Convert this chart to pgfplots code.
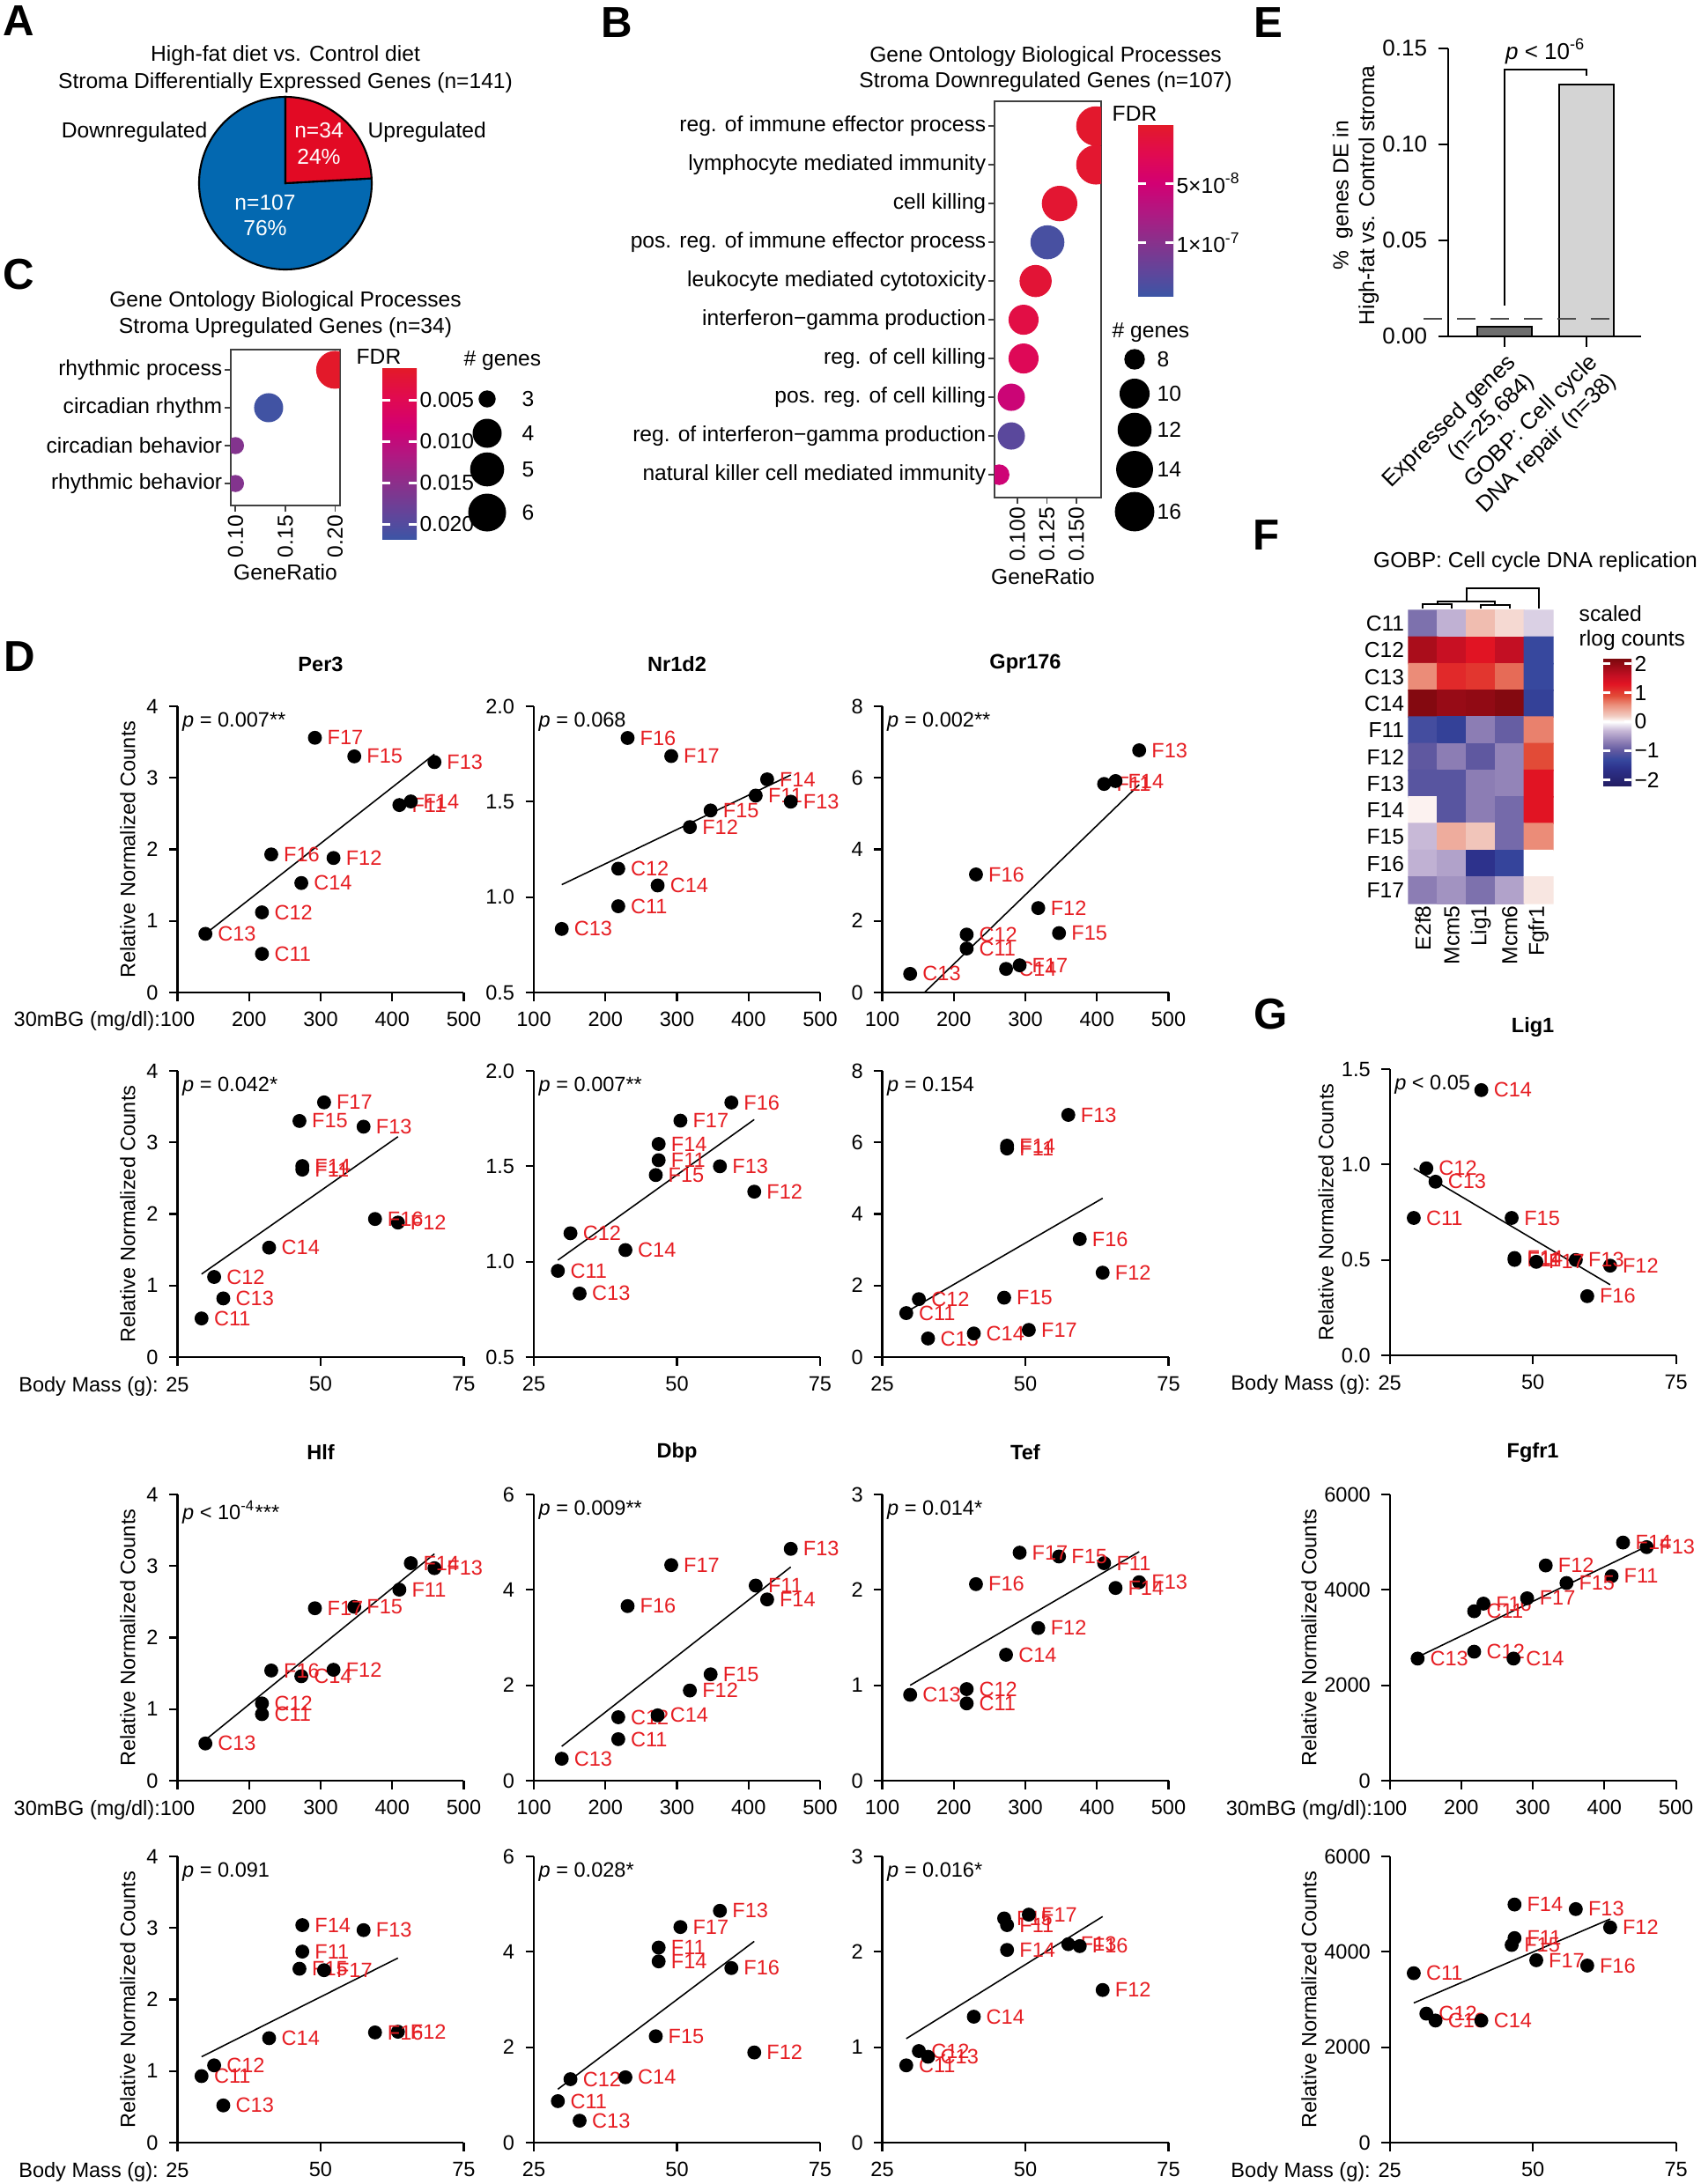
\documentclass[border=0pt]{standalone}
\usepackage{fontspec}
\setmainfont{Liberation Sans}
\usepackage{pgfplots}
\pgfplotsset{compat=1.18}
\usepackage{pgfplotstable}

\newcommand{\fs}{\fontsize{6.7}{8}\selectfont}
\newcommand{\fsb}{\fontsize{7}{8.4}\selectfont}
\newcommand{\fE}{\fontsize{7.4}{8.6}\selectfont}
\newcommand{\fL}{\fontsize{14}{14}\selectfont\bfseries}

\definecolor{labred}{RGB}{230,30,35}
\definecolor{pieblue}{RGB}{3,104,176}
\definecolor{piered}{RGB}{226,10,36}
\definecolor{bardark}{RGB}{110,110,110}
\definecolor{barlight}{RGB}{212,212,212}

\pgfplotsset{
  colormap={fdr}{rgb255(0pt)=(60,85,165) rgb255(20pt)=(95,70,155) rgb255(45pt)=(135,50,140) rgb255(70pt)=(175,25,130) rgb255(95pt)=(210,0,115) rgb255(120pt)=(225,10,80) rgb255(145pt)=(227,26,40)},
  colormap={heat}{rgb255(0pt)=(35,30,100) rgb255(6pt)=(45,50,140) rgb255(9pt)=(55,72,158) rgb255(12pt)=(95,88,160) rgb255(15pt)=(140,125,180) rgb255(19pt)=(200,185,215) rgb255(22pt)=(255,255,255) rgb255(24pt)=(242,205,195) rgb255(28pt)=(235,140,120) rgb255(31pt)=(226,75,55) rgb255(35pt)=(225,20,35) rgb255(38pt)=(195,15,35) rgb255(44pt)=(120,8,12)},
}

\pgfplotstableread{
name bg mass per3 nr1d2 gpr176 hlf dbp tef lig1 fgfr1
C11 218 29.2 0.54 0.952 1.23 0.93 0.87 0.81 0.72 3552
C12 218 31.4 1.12 1.149 1.62 1.08 1.33 0.96 0.98 2704
C13 139 33.0 0.82 0.833 0.52 0.52 0.46 0.90 0.91 2560
C14 273 41.0 1.53 1.061 0.66 1.46 1.37 1.32 1.39 2560
F11 410 46.8 2.62 1.532 5.83 2.67 4.09 2.28 0.50 4288
F12 318 63.5 1.88 1.367 2.36 1.55 1.89 1.60 0.47 4512
F13 459 57.5 3.22 1.500 6.77 2.97 4.86 2.08 0.50 4896
F14 426 46.8 2.67 1.617 5.91 3.04 3.80 2.02 0.51 4992
F15 347 46.3 3.30 1.454 1.66 2.43 2.23 2.35 0.72 4144
F16 231 59.5 1.93 1.834 3.30 1.54 3.66 2.06 0.31 3712
F17 292 50.6 3.56 1.739 0.76 2.41 4.52 2.39 0.49 3824
}\mice

% FDR in units of 1e-8
\pgfplotstableread{
y ratio n fdr
1 0.1665 16 0.3
2 0.1665 16 0.5
3 0.1357 13 0.6
4 0.1254 12 13.8
5 0.1154 11 0.9
6 0.1052 10 1.8
7 0.1052 10 3.0
8 0.0948 9 5.5
9 0.0948 9 12.8
10 0.0845 8 5.3
}\Btab

\pgfplotstableread{
y ratio n fdr
1 0.2000 6 0.0013
2 0.1333 4 0.0214
3 0.1000 3 0.0158
4 0.1000 3 0.0158
}\Ctab

\pgfplotsset{
  every axis/.append style={font=\fs, /pgf/number format/assume math mode=true},
  sc/.style={scale only axis, width=32.5mm, height=32.5mm, anchor=south west,
     axis lines*=left, tick align=outside, major tick length=0.95mm,
     axis line style={line width=0.6pt}, tick style={line width=0.6pt, black},
     clip=false, enlargelimits=false, tick label style={font=\fs},
     ylabel style={at={(axis description cs:-0.174,0.5)}, anchor=center, font=\fs}},
  bg/.style={xmin=100, xmax=500, xtick={100,200,300,400,500}},
  bgl/.style={bg, xticklabels={\llap{30mBG (mg/dl):}100,200,300,400,500}},
  bm/.style={xmin=25, xmax=75, xtick={25,50,75}},
  bml/.style={bm, xticklabels={\llap{Body Mass (g): }25,50,75}},
  pts/.style={only marks, mark=*, mark size=0.72mm, black, nodes near coords, point meta=explicit symbolic,
     every node near coord/.style={anchor=west, inner sep=0pt, xshift=1.35mm, text=labred, font=\fs}},
  reg/.style={black, line width=0.45pt, no marks},
  onedec/.style={yticklabel style={/pgf/number format/fixed, /pgf/number format/fixed zerofill, /pgf/number format/precision=1}},
}
\tikzset{
  pv/.style={anchor=north west, inner sep=0pt, xshift=0.5mm, yshift=-0.6mm, font=\fs},
  ttl/.style={font=\fs\bfseries, yshift=4.8mm},
  lt/.style={font=\fL, anchor=center},
}

\begin{document}
\begin{tikzpicture}
\pgfmathsetmacro{\ang}{90-360*34/141}
% ---------------- overlay (absolute px coordinates) ----------------
\begin{axis}[at={(0,0)}, anchor=north west, scale only axis, width=193mm, height=248mm,
  xmin=0, xmax=1930, ymin=0, ymax=2480, y dir=reverse, hide axis, clip=false]
\node[lt] at (axis cs:21,24) {A};
\node[lt] at (axis cs:700,26) {B};
\node[lt] at (axis cs:21,312) {C};
\node[lt] at (axis cs:22,746) {D};
\node[lt] at (axis cs:1440,26) {E};
\node[lt] at (axis cs:1438,608) {F};
\node[lt] at (axis cs:1443,1152) {G};
% A pie
\node[font=\fsb] at (axis cs:324,63) {High-fat diet vs. Control diet};
\node[font=\fsb] at (axis cs:324,94) {Stroma Differentially Expressed Genes (n=141)};
\filldraw[fill=pieblue, draw=black, line width=0.6pt] (axis cs:324,208) -- ++(\ang:9.8mm) arc[start angle=\ang, end angle=-270, radius=9.8mm] -- cycle;
\filldraw[fill=piered, draw=black, line width=0.6pt] (axis cs:324,208) -- ++(90:9.8mm) arc[start angle=90, end angle=\ang, radius=9.8mm] -- cycle;
\node[font=\fsb, text=white] at (axis cs:362,148) {n=34};
\node[font=\fsb, text=white] at (axis cs:362,178) {24\%};
\node[font=\fsb, text=white] at (axis cs:301,230) {n=107};
\node[font=\fsb, text=white] at (axis cs:301,259) {76\%};
\node[font=\fsb, anchor=east, inner sep=0pt] at (axis cs:236,150) {Downregulated};
\node[font=\fsb, anchor=west, inner sep=0pt] at (axis cs:417,150) {Upregulated};
% B titles and legend
\node[font=\fsb] at (axis cs:1187,64) {Gene Ontology Biological Processes};
\node[font=\fsb] at (axis cs:1187,93) {Stroma Downregulated Genes (n=107)};
\node[font=\fsb, anchor=west, inner sep=0pt] at (axis cs:1262,129) {FDR};
\node[font=\fsb] at (axis cs:1184,655) {GeneRatio};
\node[font=\fsb, anchor=west, inner sep=0pt] at (axis cs:1262,378) {\# genes};
\addplot[only marks, mark=*, black, mark size=1.10mm] coordinates {(1288,408)};
\addplot[only marks, mark=*, black, mark size=1.635mm] coordinates {(1288,447)};
\addplot[only marks, mark=*, black, mark size=1.857mm] coordinates {(1288,488)};
\addplot[only marks, mark=*, black, mark size=2.027mm] coordinates {(1288,533)};
\addplot[only marks, mark=*, black, mark size=2.17mm] coordinates {(1288,581)};
\node[font=\fsb, anchor=west, inner sep=0pt] at (axis cs:1313,408) {8};
\node[font=\fsb, anchor=west, inner sep=0pt] at (axis cs:1313,447) {10};
\node[font=\fsb, anchor=west, inner sep=0pt] at (axis cs:1313,488) {12};
\node[font=\fsb, anchor=west, inner sep=0pt] at (axis cs:1313,533) {14};
\node[font=\fsb, anchor=west, inner sep=0pt] at (axis cs:1313,581) {16};
% C titles and legend
\node[font=\fsb] at (axis cs:324,342) {Gene Ontology Biological Processes};
\node[font=\fsb] at (axis cs:324,372) {Stroma Upregulated Genes (n=34)};
\node[font=\fsb, anchor=west, inner sep=0pt] at (axis cs:404,405) {FDR};
\node[font=\fsb] at (axis cs:324,650) {GeneRatio};
\node[font=\fsb, anchor=west, inner sep=0pt] at (axis cs:526,410) {\# genes};
\addplot[only marks, mark=*, black, mark size=0.9mm] coordinates {(553,453)};
\addplot[only marks, mark=*, black, mark size=1.58mm] coordinates {(553,492)};
\addplot[only marks, mark=*, black, mark size=1.86mm] coordinates {(553,533)};
\addplot[only marks, mark=*, black, mark size=2.08mm] coordinates {(553,582)};
\node[font=\fsb, anchor=west, inner sep=0pt] at (axis cs:592,453) {3};
\node[font=\fsb, anchor=west, inner sep=0pt] at (axis cs:592,492) {4};
\node[font=\fsb, anchor=west, inner sep=0pt] at (axis cs:592,533) {5};
\node[font=\fsb, anchor=west, inner sep=0pt] at (axis cs:592,582) {6};
% F titles
\node[font=\fsb] at (axis cs:1743,638) {GOBP: Cell cycle DNA replication};
\node[font=\fsb, anchor=west, inner sep=0pt] at (axis cs:1792,697) {scaled};
\node[font=\fsb, anchor=west, inner sep=0pt] at (axis cs:1792,727) {rlog counts};
\end{axis}

% ---------------- B ----------------
\begin{axis}[at={(112.9mm,-56.5mm)}, anchor=south west, scale only axis, width=12.1mm, height=45.0mm,
  xmin=0.0806, xmax=0.1709, ymin=0.36, ymax=10.59, y dir=reverse,
  ytick={1,...,10},
  yticklabels={reg. of immune effector process, lymphocyte mediated immunity, cell killing, pos. reg. of immune effector process, leukocyte mediated cytotoxicity, interferon−gamma production, reg. of cell killing, pos. reg. of cell killing, reg. of interferon−gamma production, natural killer cell mediated immunity},
  xtick={0.1,0.125,0.15}, xticklabels={0.100,0.125,0.150},
  xticklabel style={rotate=90, anchor=east, inner sep=1pt}, yticklabel style={inner sep=0.6pt},
  tick label style={font=\fsb}, tick align=outside, major tick length=0.7mm,
  tick style={black!75, line width=0.5pt}, axis line style={black!75, line width=0.6pt},
  xtick pos=bottom, ytick pos=left, clip marker paths=true,
  colormap name=fdr, point meta min=-14.5, point meta max=0, colorbar,
  colorbar style={at={(parent axis.north east)}, anchor=north west, xshift=1.2mm, yshift=-2.6mm,
    scale only axis, width=4.0mm, height=19.5mm, ytick={-10,-5}, scaled y ticks=false,
    yticklabels={1×10\textsuperscript{-7}, 5×10\textsuperscript{-8}},
    axis line style={draw=none}, tick style={white, line width=0.8pt}, major tick length=0.9mm,
    tick align=inside, ytick pos=both, yticklabel pos=right,
    yticklabel style={font=\fsb, inner sep=0.8pt}}]
\addplot[scatter, only marks, mark=*, point meta={-\thisrow{fdr}},
  scatter/use mapped color={draw=mapped color, fill=mapped color},
  visualization depends on={1.1+1.07*sqrt((\thisrow{n}-8)/8) \as \rr},
  scatter/@pre marker code/.append style={/tikz/mark size=\rr mm}]
  table[x=ratio, y=y] {\Btab};
\end{axis}

% ---------------- C ----------------
\begin{axis}[at={(26.2mm,-57.4mm)}, anchor=south west, scale only axis, width=12.37mm, height=17.73mm,
  xmin=0.0953, xmax=0.2047, ymin=0.46, ymax=4.58, y dir=reverse,
  ytick={1,...,4},
  yticklabels={rhythmic process, circadian rhythm, circadian behavior, rhythmic behavior},
  xtick={0.1,0.15,0.2}, xticklabels={0.10,0.15,0.20},
  xticklabel style={rotate=90, anchor=east, inner sep=1pt}, yticklabel style={inner sep=0.6pt},
  tick label style={font=\fsb}, tick align=outside, major tick length=0.7mm,
  tick style={black!75, line width=0.5pt}, axis line style={black!75, line width=0.6pt},
  xtick pos=bottom, ytick pos=left, clip marker paths=true,
  colormap name=fdr, point meta min=-0.02185, point meta max=-0.0011, colorbar,
  colorbar style={at={(parent axis.north east)}, anchor=north west, xshift=1.83mm, yshift=-2.1mm,
    scale only axis, width=3.9mm, height=19.5mm, ytick={-0.02,-0.015,-0.01,-0.005}, scaled y ticks=false,
    yticklabels={0.020,0.015,0.010,0.005},
    axis line style={draw=none}, tick style={white, line width=0.8pt}, major tick length=0.9mm,
    tick align=inside, ytick pos=both, yticklabel pos=right,
    yticklabel style={font=\fsb, inner sep=0.8pt}}]
\addplot[scatter, only marks, mark=*, point meta={-\thisrow{fdr}},
  scatter/use mapped color={draw=mapped color, fill=mapped color},
  visualization depends on={0.9+1.18*sqrt((\thisrow{n}-3)/3) \as \rr},
  scatter/@pre marker code/.append style={/tikz/mark size=\rr mm}]
  table[x=ratio, y=y] {\Ctab};
\end{axis}

% ---------------- E ----------------
\begin{axis}[at={(164.4mm,-38.2mm)}, anchor=south west, scale only axis, width=21.9mm, height=32.7mm,
  xmin=0.31, xmax=2.667, ymin=0, ymax=0.15, axis lines*=left, tick align=outside,
  major tick length=1.15mm, axis line style={line width=0.7pt}, tick style={line width=0.7pt, black},
  ytick={0,0.05,0.1,0.15}, scaled y ticks=false,
  yticklabel style={/pgf/number format/fixed, /pgf/number format/fixed zerofill, /pgf/number format/precision=2},
  xtick={1,2}, xticklabels={{Expressed genes\\(n=25,684)},{GOBP: Cell cycle\\DNA repair (n=38)}},
  xticklabel style={rotate=45, anchor=north east, align=right, inner sep=1pt},
  tick label style={font=\fE},
  ylabel={\%\ \ genes DE in\\High-fat vs. Control stroma},
  ylabel style={align=center, at={(axis description cs:-0.48,0.49)}, anchor=center, font=\fsb},
  clip=false]
\addplot[ybar, bar width=0.667, bar shift=0pt, fill=bardark, draw=black, line width=0.6pt] coordinates {(1,0.0050)};
\addplot[ybar, bar width=0.667, bar shift=0pt, fill=barlight, draw=black, line width=0.6pt] coordinates {(2,0.1312)};
\addplot[color=black!70, line width=0.6pt, dash pattern=on 2.1mm off 1.7mm] coordinates {(0.009,0.0092) (2.355,0.0092)};
\addplot[black, line width=0.6pt] coordinates {(1,0.0161) (1,0.139) (2,0.139) (2,0.1358)};
\node[font=\fE] at (axis cs:1.5,0.1486) {\textit{p} < 10\textsuperscript{-6}};
\end{axis}

% ---------------- F heatmap ----------------
\begin{axis}[at={(159.9mm,-69.3mm)}, anchor=north west, scale only axis, width=16.4mm, height=33.3mm,
  xmin=-0.5, xmax=4.5, ymin=-0.5, ymax=10.5, y dir=reverse, enlargelimits=false,
  xtick={0,...,4}, xticklabels={E2f8,Mcm5,Lig1,Mcm6,Fgfr1},
  xticklabel style={rotate=90, anchor=east, inner sep=0.5pt},
  ytick={0,...,10}, yticklabels={C11,C12,C13,C14,F11,F12,F13,F14,F15,F16,F17},
  yticklabel style={inner sep=1.2pt},
  tick label style={font=\fsb}, axis line style={draw=none}, major tick length=0pt,
  clip=false, colormap name=heat, point meta min=-2.2, point meta max=2.2, colorbar,
  colorbar style={at={(parent axis.north east)}, anchor=north west, xshift=2.7mm, yshift=-5.4mm,
    scale only axis, width=3.2mm, height=14.5mm, ytick={-2,-1,0,1,2},
    yticklabels={−2,−1,0,1,2},
    axis line style={draw=none}, tick style={white, line width=0.8pt}, major tick length=0.8mm,
    tick align=inside, ytick pos=both, yticklabel pos=right,
    yticklabel style={font=\fsb, inner sep=0.8pt}}]
\addplot[matrix plot*, mesh/cols=5, point meta=explicit] table[meta=c] {
x y c
0 0 -0.8
1 0 -0.35
2 0 0.3
3 0 0.15
4 0 -0.2
0 1 1.8
1 1 1.55
2 1 1.3
3 1 1.6
4 1 -1.3
0 2 0.6
1 2 1.15
2 2 1.05
3 2 0.75
4 2 -1.3
0 3 2.1
1 3 1.95
2 3 2.0
3 3 2.1
4 3 -1.4
0 4 -1.2
1 4 -1.4
2 4 -0.7
3 4 -0.95
4 4 0.65
0 5 -1.0
1 5 -0.7
2 5 -1.0
3 5 -0.65
4 5 0.9
0 6 -1.05
1 6 -1.05
2 6 -0.7
3 6 -0.65
4 6 1.3
0 7 0.05
1 7 -1.05
2 7 -0.7
3 7 -0.85
4 7 1.3
0 8 -0.3
1 8 0.4
2 8 0.25
3 8 -0.85
4 8 0.6
0 9 -0.35
1 9 -0.45
2 9 -1.6
3 9 -1.35
4 9 0
0 10 -0.7
1 10 -0.55
2 10 -0.8
3 10 -0.45
4 10 0.1
};
\addplot[black, line width=0.6pt] coordinates {(0,-0.57) (0,-0.73) (1,-0.73) (1,-0.57)};
\addplot[black, line width=0.6pt] coordinates {(2,-0.57) (2,-0.70) (3,-0.70) (3,-0.57)};
\addplot[black, line width=0.6pt] coordinates {(0.5,-0.73) (0.5,-0.83) (2.5,-0.83) (2.5,-0.70)};
\addplot[black, line width=0.6pt] coordinates {(1.5,-0.83) (1.5,-1.33) (4,-1.33) (4,-0.57)};
\end{axis}

% ---------------- D row 1 (blood glucose) ----------------
\begin{axis}[sc, bgl, at={(20.15mm,-112.7mm)}, ymin=0, ymax=4, ytick={0,1,2,3,4}, ylabel={Relative Normalized Counts}]
\addplot[reg] coordinates {(139,0.82) (459,3.33)};
\addplot[pts] table[x=bg, y=per3, meta=name] {\mice};
\node[pv] at (rel axis cs:0,1) {\textit{p} = 0.007**};
\node[ttl] at (rel axis cs:0.5,1) {Per3};
\end{axis}
\begin{axis}[sc, bg, onedec, at={(60.6mm,-112.7mm)}, ymin=0.5, ymax=2, ytick={0.5,1,1.5,2}]
\addplot[reg] coordinates {(139,1.065) (459,1.64)};
\addplot[pts] table[x=bg, y=nr1d2, meta=name] {\mice};
\node[pv] at (rel axis cs:0,1) {\textit{p} = 0.068};
\node[ttl] at (rel axis cs:0.5,1) {Nr1d2};
\end{axis}
\begin{axis}[sc, bg, at={(100.15mm,-112.7mm)}, ymin=0, ymax=8, ytick={0,2,4,6,8}]
\addplot[reg] coordinates {(159,0) (459,5.81)};
\addplot[pts] table[x=bg, y=gpr176, meta=name] {\mice};
\node[pv] at (rel axis cs:0,1) {\textit{p} = 0.002**};
\node[ttl] at (rel axis cs:0.5,1) {Gpr176};
\end{axis}

% ---------------- D row 2 (body mass) ----------------
\begin{axis}[sc, bml, at={(20.15mm,-154.1mm)}, ymin=0, ymax=4, ytick={0,1,2,3,4}, ylabel={Relative Normalized Counts}]
\addplot[reg] coordinates {(29.2,1.16) (63.5,3.08)};
\addplot[pts] table[x=mass, y=per3, meta=name] {\mice};
\node[pv] at (rel axis cs:0,1) {\textit{p} = 0.042*};
\end{axis}
\begin{axis}[sc, bm, onedec, at={(60.6mm,-154.1mm)}, ymin=0.5, ymax=2, ytick={0.5,1,1.5,2}]
\addplot[reg] coordinates {(29.2,1.008) (63.5,1.745)};
\addplot[pts] table[x=mass, y=nr1d2, meta=name] {\mice};
\node[pv] at (rel axis cs:0,1) {\textit{p} = 0.007**};
\end{axis}
\begin{axis}[sc, bm, at={(100.15mm,-154.1mm)}, ymin=0, ymax=8, ytick={0,2,4,6,8}]
\addplot[reg] coordinates {(29.2,1.26) (63.5,4.44)};
\addplot[pts] table[x=mass, y=gpr176, meta=name] {\mice};
\node[pv] at (rel axis cs:0,1) {\textit{p} = 0.154};
\end{axis}

% ---------------- D row 3 (blood glucose) ----------------
\begin{axis}[sc, bgl, at={(20.15mm,-202.2mm)}, ymin=0, ymax=4, ytick={0,1,2,3,4}, ylabel={Relative Normalized Counts}]
\addplot[reg] coordinates {(139,0.57) (459,3.17)};
\addplot[pts] table[x=bg, y=hlf, meta=name] {\mice};
\node[pv] at (rel axis cs:0,1) {\textit{p} < 10\textsuperscript{-4}***};
\node[ttl] at (rel axis cs:0.5,1) {Hlf};
\end{axis}
\begin{axis}[sc, bg, at={(60.6mm,-202.2mm)}, ymin=0, ymax=6, ytick={0,2,4,6}]
\addplot[reg] coordinates {(139,0.72) (459,4.48)};
\addplot[pts] table[x=bg, y=dbp, meta=name] {\mice};
\node[pv] at (rel axis cs:0,1) {\textit{p} = 0.009**};
\node[ttl] at (rel axis cs:0.5,1) {Dbp};
\end{axis}
\begin{axis}[sc, bg, at={(100.15mm,-202.2mm)}, ymin=0, ymax=3, ytick={0,1,2,3}]
\addplot[reg] coordinates {(139,1.0) (459,2.40)};
\addplot[pts] table[x=bg, y=tef, meta=name] {\mice};
\node[pv] at (rel axis cs:0,1) {\textit{p} = 0.014*};
\node[ttl] at (rel axis cs:0.5,1) {Tef};
\end{axis}

% ---------------- D row 4 (body mass) ----------------
\begin{axis}[sc, bml, at={(20.15mm,-243.3mm)}, ymin=0, ymax=4, ytick={0,1,2,3,4}, ylabel={Relative Normalized Counts}]
\addplot[reg] coordinates {(29.2,1.20) (63.5,2.58)};
\addplot[pts] table[x=mass, y=hlf, meta=name] {\mice};
\node[pv] at (rel axis cs:0,1) {\textit{p} = 0.091};
\end{axis}
\begin{axis}[sc, bm, at={(60.6mm,-243.3mm)}, ymin=0, ymax=6, ytick={0,2,4,6}]
\addplot[reg] coordinates {(29.2,1.12) (63.5,4.22)};
\addplot[pts] table[x=mass, y=dbp, meta=name] {\mice};
\node[pv] at (rel axis cs:0,1) {\textit{p} = 0.028*};
\end{axis}
\begin{axis}[sc, bm, at={(100.15mm,-243.3mm)}, ymin=0, ymax=3, ytick={0,1,2,3}]
\addplot[reg] coordinates {(29.2,1.09) (63.5,2.37)};
\addplot[pts] table[x=mass, y=tef, meta=name] {\mice};
\node[pv] at (rel axis cs:0,1) {\textit{p} = 0.016*};
\end{axis}

% ---------------- G ----------------
\begin{axis}[sc, bml, onedec, at={(157.76mm,-153.9mm)}, ymin=0, ymax=1.5, ytick={0,0.5,1,1.5},
  ylabel={Relative Normalized Counts}, ylabel style={at={(axis description cs:-0.223,0.5)}}]
\addplot[reg] coordinates {(29.2,0.98) (63.5,0.37)};
\addplot[pts] table[x=mass, y=lig1, meta=name] {\mice};
\node[pv] at (rel axis cs:0,1) {\textit{p} < 0.05};
\node[ttl] at (rel axis cs:0.5,1) {Lig1};
\end{axis}
\begin{axis}[sc, bgl, at={(157.76mm,-202.2mm)}, ymin=0, ymax=6000, ytick={0,2000,4000,6000},
  scaled y ticks=false, yticklabel style={/pgf/number format/1000 sep={}},
  ylabel={Relative Normalized Counts}, ylabel style={at={(axis description cs:-0.282,0.5)}}]
\addplot[reg] coordinates {(139,2592) (459,4912)};
\addplot[pts] table[x=bg, y=fgfr1, meta=name] {\mice};
\node[ttl] at (rel axis cs:0.5,1) {Fgfr1};
\end{axis}
\begin{axis}[sc, bml, at={(157.76mm,-243.3mm)}, ymin=0, ymax=6000, ytick={0,2000,4000,6000},
  scaled y ticks=false, yticklabel style={/pgf/number format/1000 sep={}},
  ylabel={Relative Normalized Counts}, ylabel style={at={(axis description cs:-0.282,0.5)}}]
\addplot[reg] coordinates {(29.2,2928) (63.5,4688)};
\addplot[pts] table[x=mass, y=fgfr1, meta=name] {\mice};
\end{axis}

\pgfresetboundingbox
\path[use as bounding box] (0,0) rectangle (193mm,-248mm);
\end{tikzpicture}
\end{document}
